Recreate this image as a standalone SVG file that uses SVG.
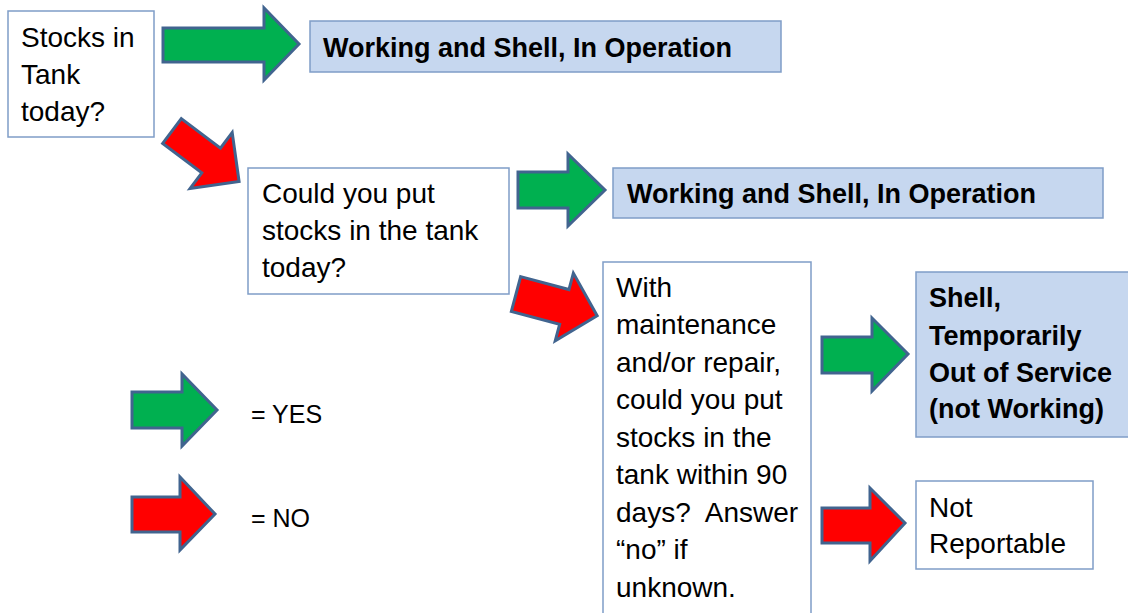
<svg xmlns="http://www.w3.org/2000/svg" width="1128" height="613" viewBox="0 0 1128 613">
  <style>
    .box { fill: #ffffff; stroke: #7F9DC7; stroke-width: 1.5; }
    .res { fill: #C6D7EF; stroke: #7F9DC7; stroke-width: 1.5; }
    .t { font-family: "Liberation Sans", Arial, sans-serif; font-size: 28px; fill: #000000; }
    .b { font-family: "Liberation Sans", Arial, sans-serif; font-size: 27px; font-weight: bold; fill: #000000; }
    .yes { fill: #00B050; stroke: #41648F; stroke-width: 3; stroke-linejoin: miter; }
    .no { fill: #FF0000; stroke: #41648F; stroke-width: 3; stroke-linejoin: miter; }
  </style>
  <defs>
    <polygon id="diag1" points="0,-15.5 49,-15.5 49,-35 84,0 49,35 49,15.5 0,15.5"/>
    <polygon id="diag2" points="0,-18 50,-18 50,-35 84,0 50,35 50,18 0,18"/>
  </defs>
  <rect width="1128" height="613" fill="#ffffff"/>

  <g id="connectors">
    <polygon class="yes" points="163,28 264,28 264,8 299,44 264,80 264,62 163,62"/>
    <g transform="translate(172,131) rotate(37)"><use href="#diag1" class="no"/></g>
    <polygon class="yes" points="518,172 568,172 568,154 605,190 568,226 568,208 518,208"/>
    <g transform="translate(516,294) rotate(15)"><use href="#diag2" class="no"/></g>
    <polygon class="yes" points="822,337 872,337 872,318 908,354 872,391 872,373 822,373"/>
    <polygon class="no" points="822,508 870,508 870,488 905,523 870,561 870,543 822,543"/>
  </g>

  <g id="q1">
    <rect class="box" x="8" y="11" width="146" height="126"/>
    <text class="t" x="21" y="47">Stocks in</text>
    <text class="t" x="21" y="84">Tank</text>
    <text class="t" x="21" y="121">today?</text>
  </g>

  <g id="r1">
    <rect class="res" x="310" y="21" width="471" height="51"/>
    <text class="b" x="323" y="57">Working and Shell, In Operation</text>
  </g>

  <g id="q2">
    <rect class="box" x="248" y="168" width="261" height="126"/>
    <text class="t" x="262" y="203">Could you put</text>
    <text class="t" x="262" y="240">stocks in the tank</text>
    <text class="t" x="262" y="277">today?</text>
  </g>

  <g id="r2">
    <rect class="res" x="613" y="168" width="490" height="50"/>
    <text class="b" x="627" y="203">Working and Shell, In Operation</text>
  </g>

  <g id="q3">
    <rect class="box" x="603" y="262" width="208" height="370"/>
    <text class="t" x="616" y="297">With</text>
    <text class="t" x="616" y="334">maintenance</text>
    <text class="t" x="616" y="372">and/or repair,</text>
    <text class="t" x="616" y="409">could you put</text>
    <text class="t" x="616" y="447">stocks in the</text>
    <text class="t" x="616" y="484">tank within 90</text>
    <text class="t" x="616" y="522" xml:space="preserve">days?  Answer</text>
    <text class="t" x="616" y="559">“no” if</text>
    <text class="t" x="616" y="597">unknown.</text>
  </g>

  <g id="r3">
    <rect class="res" x="916" y="272" width="220" height="165"/>
    <text class="b" x="929" y="307">Shell,</text>
    <text class="b" x="929" y="345">Temporarily</text>
    <text class="b" x="929" y="382">Out of Service</text>
    <text class="b" x="929" y="418">(not Working)</text>
  </g>

  <g id="r4">
    <rect class="box" x="916" y="481" width="177" height="88"/>
    <text class="t" x="929" y="517">Not</text>
    <text class="t" x="929" y="553">Reportable</text>
  </g>

  <g id="legend">
    <polygon class="yes" points="132,392 182,392 182,374 217,410 182,446 182,428 132,428"/>
    <text class="t" x="251" y="423" style="font-size:25px">= YES</text>
    <polygon class="no" points="132,497 180,497 180,477 215,514 180,550 180,532 132,532"/>
    <text class="t" x="251" y="527" style="font-size:25px">= NO</text>
  </g>
</svg>
